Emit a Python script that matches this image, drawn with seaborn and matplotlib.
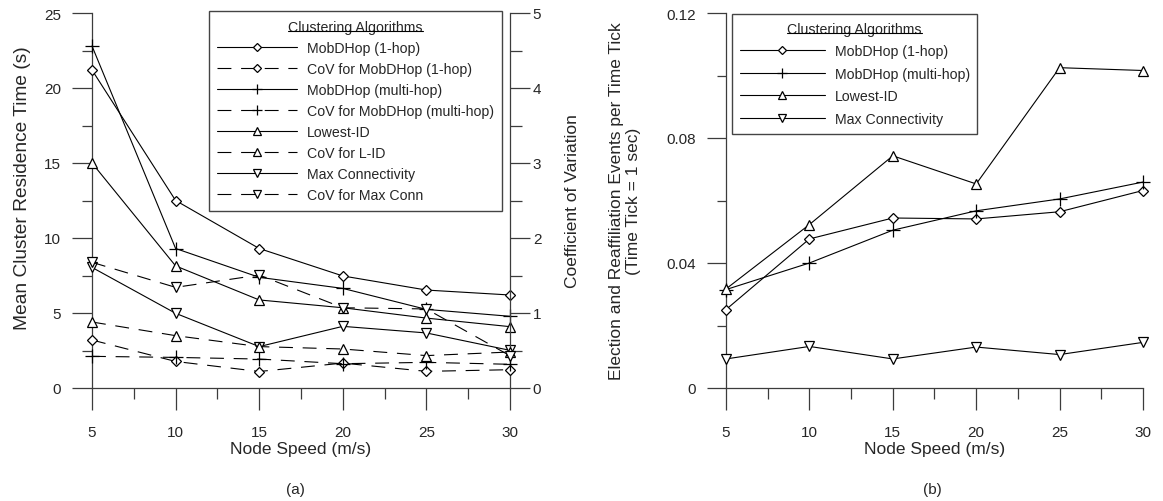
import matplotlib
matplotlib.use("Agg")
import matplotlib.pyplot as plt
import seaborn as sns
from matplotlib.ticker import MultipleLocator
from matplotlib.lines import Line2D

# ---------------- data ----------------
speeds = [5, 10, 15, 20, 25, 30]

# (a) mean cluster residence time (s)
res_mobd_1hop = [21.2, 12.5, 9.3, 7.47, 6.53, 6.2]
res_mobd_multi = [22.8, 9.3, 7.38, 6.64, 5.24, 4.78]
res_lowest_id = [15.0, 8.14, 5.87, 5.35, 4.66, 4.09]
res_max_conn = [8.04, 4.98, 2.76, 4.11, 3.67, 2.51]

# (a) coefficient of variation
cov_mobd_1hop = [0.64, 0.354, 0.22, 0.332, 0.222, 0.244]
cov_mobd_multi = [0.422, 0.408, 0.386, 0.324, 0.342, 0.316]
cov_lowest_id = [0.88, 0.698, 0.552, 0.52, 0.432, 0.48]
cov_max_conn = [1.676, 1.342, 1.506, 1.07, 1.054, 0.43]

# (b) election and reaffiliation events per time tick
ev_mobd_1hop = [0.0251, 0.0477, 0.0544, 0.0541, 0.0564, 0.0632]
ev_mobd_multi = [0.0315, 0.0400, 0.0505, 0.0567, 0.0605, 0.0659]
ev_lowest_id = [0.0317, 0.0523, 0.0743, 0.0653, 0.1025, 0.1016]
ev_max_conn = [0.0093, 0.0133, 0.0093, 0.0131, 0.0107, 0.0146]

labels_a_main = ["MobDHop (1-hop)", "MobDHop (multi-hop)", "Lowest-ID", "Max Connectivity"]
labels_a_cov = ["CoV for MobDHop (1-hop)", "CoV for MobDHop (multi-hop)", "CoV for L-ID", "CoV for Max Conn"]
labels_b = ["MobDHop (1-hop)", "MobDHop (multi-hop)", "Lowest-ID", "Max Connectivity"]
legend_title = "Clustering Algorithms"

yticks_b = [0, 0.04, 0.08, 0.12]
yticklabels_b = ["0", "0.04", "0.08", "0.12"]

# ---------------- style ----------------
sns.set_style("ticks")
plt.rcParams["font.family"] = ["Liberation Sans", "DejaVu Sans"]
plt.rcParams["lines.scale_dashes"] = False

W, H = 1163, 502
fig = plt.figure(figsize=(W / 100, H / 100), dpi=100)


def px_axes(x0, x1, ytop, ybot):
    return [x0 / W, 1 - ybot / H, (x1 - x0) / W, (ybot - ytop) / H]


ax = fig.add_axes(px_axes(92, 510, 14, 389))
ax2 = ax.twinx()
bx = fig.add_axes(px_axes(726, 1143, 14, 389))

AXC = "#3c3c3c"
DASH = (0, (10, 7))
markers = [("D", 5.2), ("+", 9.5), ("^", 7.5), ("v", 7.5)]


def draw(a, y, label, marker, ms, ls):
    sns.lineplot(x=speeds, y=y, ax=a, color="black", lw=0.8, linestyle=ls,
                 marker=marker, ms=ms, mfc="white", mec="black", mew=0.9,
                 label=label, legend=False, errorbar=None, zorder=3, clip_on=False)


for y, lab, (m, ms) in zip([res_mobd_1hop, res_mobd_multi, res_lowest_id, res_max_conn],
                           labels_a_main, markers):
    draw(ax, y, lab, m, ms, "-")
for y, lab, (m, ms) in zip([cov_mobd_1hop, cov_mobd_multi, cov_lowest_id, cov_max_conn],
                           labels_a_cov, markers):
    draw(ax2, y, lab, m, ms, DASH)
for y, lab, (m, ms) in zip([ev_mobd_1hop, ev_mobd_multi, ev_lowest_id, ev_max_conn],
                           labels_b, markers):
    draw(bx, y, lab, m, ms, "-")

# ---------------- axes (a) ----------------
ax.set_xlim(5, 30)
ax.set_ylim(0, 25)
ax2.set_ylim(0, 5)
ax.set_xticks(speeds)
ax.xaxis.set_minor_locator(MultipleLocator(2.5))
ax.yaxis.set_major_locator(MultipleLocator(5))
ax.yaxis.set_minor_locator(MultipleLocator(2.5))
ax2.yaxis.set_major_locator(MultipleLocator(1))
ax2.yaxis.set_minor_locator(MultipleLocator(0.5))

for s in ["top", "right"]:
    ax.spines[s].set_visible(False)
for s in ["top", "left", "bottom"]:
    ax2.spines[s].set_visible(False)
ax2.spines["right"].set_visible(True)
for a in (ax, ax2, bx):
    for sp in a.spines.values():
        sp.set_color(AXC)
        sp.set_linewidth(0.9)

ax.tick_params(axis="x", which="major", direction="out", length=15.8, width=0.9,
               pad=11, labelsize=11, color=AXC)
ax.tick_params(axis="x", which="minor", direction="out", length=7.9, width=0.9, color=AXC)
ax.tick_params(axis="y", which="major", direction="out", length=14.4, width=0.9,
               pad=8, labelsize=11, color=AXC)
ax.tick_params(axis="y", which="minor", direction="out", length=7.2, width=0.9, color=AXC)
ax2.tick_params(axis="y", which="major", direction="out", length=14.4, width=0.9,
                pad=2, labelsize=11, color=AXC)
ax2.tick_params(axis="y", which="minor", direction="out", length=8.6, width=0.9, color=AXC)

ax.set_xlabel("Node Speed (m/s)", fontsize=12.5, labelpad=1.5)
ax.set_ylabel("Mean Cluster Residence Time (s)", fontsize=13.8, va="center")
ax.yaxis.set_label_coords(-0.167, 0.535)
ax2.set_ylabel("Coefficient of Variation", fontsize=12.5, va="center")
ax2.yaxis.set_label_coords(1.15, 0.5)

# ---------------- axes (b) ----------------
bx.set_xlim(5, 30)
bx.set_ylim(0, 0.12)
bx.set_xticks(speeds)
bx.xaxis.set_minor_locator(MultipleLocator(2.5))
bx.set_yticks(yticks_b, labels=yticklabels_b)
bx.yaxis.set_minor_locator(MultipleLocator(0.02))
for s in ["top", "right"]:
    bx.spines[s].set_visible(False)
bx.tick_params(axis="x", which="major", direction="out", length=15.8, width=0.9,
               pad=11, labelsize=11, color=AXC)
bx.tick_params(axis="x", which="minor", direction="out", length=7.9, width=0.9, color=AXC)
bx.tick_params(axis="y", which="major", direction="out", length=13.7, width=0.9,
               pad=8, labelsize=11, color=AXC)
bx.tick_params(axis="y", which="minor", direction="out", length=6.5, width=0.9, color=AXC)
bx.set_xlabel("Node Speed (m/s)", fontsize=12.5, labelpad=1.5)
bx.set_ylabel("Election and Reaffiliation Events per Time Tick\n(Time Tick = 1 sec)",
              fontsize=12.5, va="center", linespacing=1.2)
bx.yaxis.set_label_coords(-0.242, 0.5)

# ---------------- legends ----------------
main_lines = ax.get_lines()
cov_lines = ax2.get_lines()
handles_a, labs_a = [], []
for ml, cl in zip(main_lines, cov_lines):
    handles_a += [ml, cl]
    labs_a += [ml.get_label(), cl.get_label()]

leg_kw = dict(title=legend_title, fontsize=10.2, title_fontsize=10.2, frameon=True,
              fancybox=False, edgecolor="#444444", framealpha=1, borderaxespad=0,
              handletextpad=0.7, markerscale=0.7)
leg_a = ax2.legend(handles_a, labs_a, loc="upper right", bbox_to_anchor=(0.981, 1.005),
                   bbox_transform=ax.transAxes, handlelength=5.6, labelspacing=0.5,
                   borderpad=0.6, **leg_kw)
leg_a.get_frame().set_linewidth(1.0)

b_lines = bx.get_lines()
leg_b = bx.legend(b_lines, [l.get_label() for l in b_lines], loc="upper left",
                  bbox_to_anchor=(0.014, 0.997), handlelength=6.0, labelspacing=0.6,
                  borderpad=0.55, **leg_kw)
leg_b.get_frame().set_linewidth(1.0)

fig.text(295 / W, 1 - 490 / H, "(a)", ha="center", va="center", fontsize=11)
fig.text(932 / W, 1 - 490 / H, "(b)", ha="center", va="center", fontsize=11)

# underline the legend titles
fig.canvas.draw()
renderer = fig.canvas.get_renderer()
inv = fig.transFigure.inverted()
for lg in (leg_a, leg_b):
    bb = lg.get_title().get_window_extent(renderer)
    yy = bb.y0 + 0.2 * bb.height
    (fx0, fy), (fx1, _) = inv.transform([(bb.x0, yy), (bb.x1, yy)])
    fig.add_artist(Line2D([fx0, fx1], [fy, fy], transform=fig.transFigure,
                          color="black", lw=0.8))

fig.savefig("out.png", dpi=100)
